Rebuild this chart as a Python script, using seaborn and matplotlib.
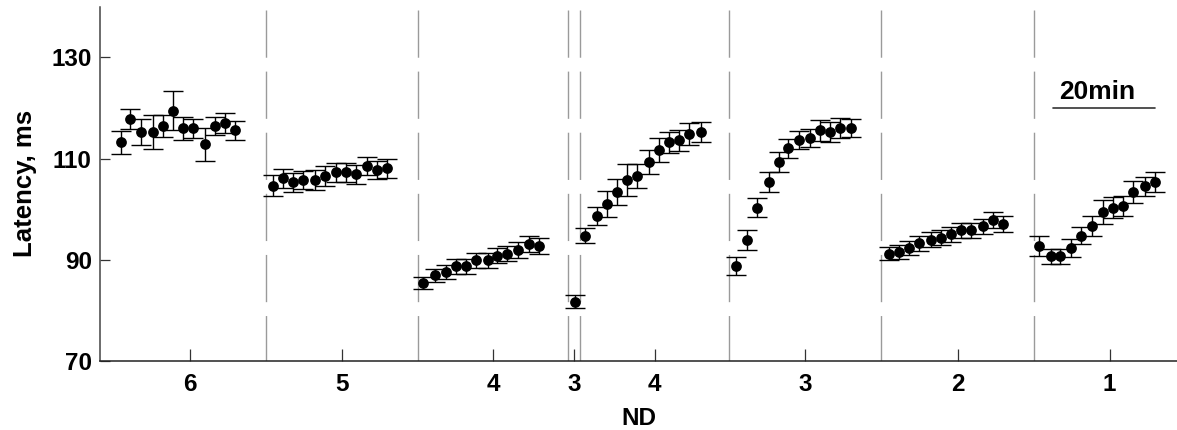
import numpy as np
import pandas as pd
import matplotlib
matplotlib.use('Agg')
import matplotlib.pyplot as plt
import seaborn as sns

# ND di ogni segmento, nell'ordine della registrazione
nd_labels = ['6', '5', '4', '3', '4', '3', '2', '1']
# durata dei segmenti (min)
seg_minutes = [30, 30, 29.5, 2.4, 29.5, 30, 30, 30]

# tempi dei punti (min dall'inizio del segmento)
t_nd6 = [1.3, 3.2, 5.3, 7.6, 9.7, 11.6, 13.6, 15.5, 17.9, 19.9, 21.9, 23.9]
t_nd5 = [1.4, 3.4, 5.4, 7.3, 9.6, 11.6, 13.7, 15.7, 17.7, 20.0, 21.9, 23.9]
t_nd4a = [1.0, 3.4, 5.4, 7.4, 9.4, 11.4, 13.7, 15.6, 17.6, 19.6, 21.9, 23.9]
t_nd3a = [1.4]
t_nd4b = [1.0, 3.4, 5.4, 7.4, 9.3, 11.3, 13.6, 15.6, 17.6, 19.5, 21.6, 23.9]
t_nd3b = [1.3, 3.4, 5.4, 7.8, 9.7, 11.6, 13.7, 15.9, 17.9, 19.9, 21.9, 23.9]
t_nd2 = [1.5, 3.4, 5.4, 7.4, 9.7, 11.7, 13.7, 15.7, 17.6, 20.0, 22.0, 23.9]
t_nd1 = [1.1, 3.4, 5.3, 7.3, 9.3, 11.6, 13.7, 15.7, 17.6, 19.6, 21.9, 23.9]

# latenza media (ms)
lat_nd6 = [113.2, 117.9, 115.2, 115.2, 116.4, 119.5, 116.0, 116.0, 112.8, 116.4, 117.1, 115.6]
lat_nd5 = [104.6, 106.1, 105.3, 105.7, 105.7, 106.6, 107.3, 107.3, 106.9, 108.5, 107.7, 108.1]
lat_nd4a = [85.3, 86.9, 87.6, 88.7, 88.7, 89.9, 89.9, 90.8, 91.2, 91.9, 93.1, 92.7]
lat_nd3a = [81.7]
lat_nd4b = [94.7, 98.6, 101.0, 103.4, 105.8, 106.5, 109.3, 111.7, 113.2, 113.6, 114.8, 115.2]
lat_nd3b = [88.8, 93.9, 100.3, 105.4, 109.3, 112.0, 113.6, 114.0, 115.6, 115.2, 116.0, 116.0]
lat_nd2 = [91.2, 91.5, 92.3, 93.2, 93.9, 94.3, 95.0, 95.8, 95.8, 96.6, 97.8, 97.0]
lat_nd1 = [92.7, 90.7, 90.7, 92.3, 94.7, 96.6, 99.4, 100.3, 100.6, 103.4, 104.5, 105.4]

# errore standard (ms)
err_nd6 = [2.2, 2.0, 2.6, 3.4, 2.2, 3.8, 2.3, 1.9, 3.2, 1.8, 2.0, 1.9]
err_nd5 = [2.1, 1.9, 1.9, 1.8, 2.0, 2.0, 1.9, 1.9, 1.9, 1.8, 1.8, 1.9]
err_nd4a = [1.2, 1.3, 1.4, 1.5, 1.5, 1.5, 1.5, 1.5, 1.5, 1.5, 1.6, 1.5]
err_nd3a = [1.2]
err_nd4b = [1.5, 1.8, 2.6, 2.5, 3.2, 2.4, 2.3, 2.4, 2.1, 2.1, 2.2, 2.0]
err_nd3b = [1.8, 1.9, 1.8, 2.0, 2.0, 1.8, 1.8, 1.8, 2.1, 2.0, 2.0, 1.8]
err_nd2 = [1.2, 1.3, 1.4, 1.4, 1.5, 1.5, 1.5, 1.5, 1.5, 1.5, 1.6, 1.6]
err_nd1 = [2.0, 1.5, 1.5, 1.8, 1.7, 2.0, 2.4, 2.0, 1.9, 2.2, 1.9, 2.0]

tempi = [t_nd6, t_nd5, t_nd4a, t_nd3a, t_nd4b, t_nd3b, t_nd2, t_nd1]
latenze = [lat_nd6, lat_nd5, lat_nd4a, lat_nd3a, lat_nd4b, lat_nd3b, lat_nd2, lat_nd1]
errori = [err_nd6, err_nd5, err_nd4a, err_nd3a, err_nd4b, err_nd3b, err_nd2, err_nd1]

# inizio di ogni segmento sull'asse del tempo
seg_start = np.concatenate([[0], np.cumsum(seg_minutes)[:-1]])
seg_center = seg_start + np.array(seg_minutes) / 2

# tabella unica per seaborn
rows = []
for i in range(len(nd_labels)):
    for t, y, e in zip(tempi[i], latenze[i], errori[i]):
        rows.append({'time': seg_start[i] + t, 'latency': y, 'sem': e, 'segment': i})
df = pd.DataFrame(rows)

sns.set_style('white')
plt.rcParams['font.family'] = ['Liberation Sans', 'DejaVu Sans']
plt.rcParams['font.weight'] = 'bold'
plt.rcParams['text.color'] = 'black'
plt.rcParams['axes.labelcolor'] = 'black'
plt.rcParams['xtick.color'] = 'black'
plt.rcParams['ytick.color'] = 'black'

fig = plt.figure(figsize=(11.77, 4.30), dpi=100)
ax = fig.add_axes([0.085, 0.1612, 0.915, 0.8226])

# linee tratteggiate tra i segmenti
for x in seg_start[1:]:
    ax.plot([x, x], [139.4, 70], color='#9a9a9a', lw=1.0, linestyle=(0, (34, 10)), zorder=1)

ax.errorbar(df['time'], df['latency'], yerr=df['sem'], fmt='none', ecolor='black',
            elinewidth=1.0, capsize=7.2, capthick=1.0, zorder=2)
sns.scatterplot(data=df, x='time', y='latency', color='black', s=60, edgecolor='black',
                linewidth=0, zorder=3, ax=ax, legend=False)

# barra di scala 20 min
ax.plot([185.3, 205.3], [120.1, 120.1], color='#333333', lw=1.2)
ax.text(194.0, 121.7, '20min', ha='center', va='baseline', fontsize=19, fontweight='bold')

ax.set_xlim(-2.76, 209.7)
ax.set_ylim(70, 140)
ax.set_yticks([70, 90, 110, 130])
ax.set_xticks(seg_center)
ax.set_xticklabels(nd_labels)
ax.tick_params(axis='x', bottom=True, direction='in', length=8.6, width=0.9, color='#333333',
               pad=9, labelsize=17.5, labelcolor='black')
ax.tick_params(axis='y', left=True, direction='in', length=7.2, width=0.9, color='#333333',
               pad=6, labelsize=17.5, labelcolor='black')
for lab in ax.get_xticklabels() + ax.get_yticklabels():
    lab.set_fontweight('bold')

ax.set_xlabel('ND', fontsize=17.5, fontweight='bold', labelpad=8)
ax.set_ylabel('Latency, ms', fontsize=18.5, fontweight='bold', labelpad=10)

sns.despine(ax=ax, top=True, right=True)
ax.spines['left'].set_color('#444444')
ax.spines['left'].set_linewidth(1.1)
ax.spines['bottom'].set_color('#222222')
ax.spines['bottom'].set_linewidth(1.1)

plt.savefig('out.png', dpi=100)
